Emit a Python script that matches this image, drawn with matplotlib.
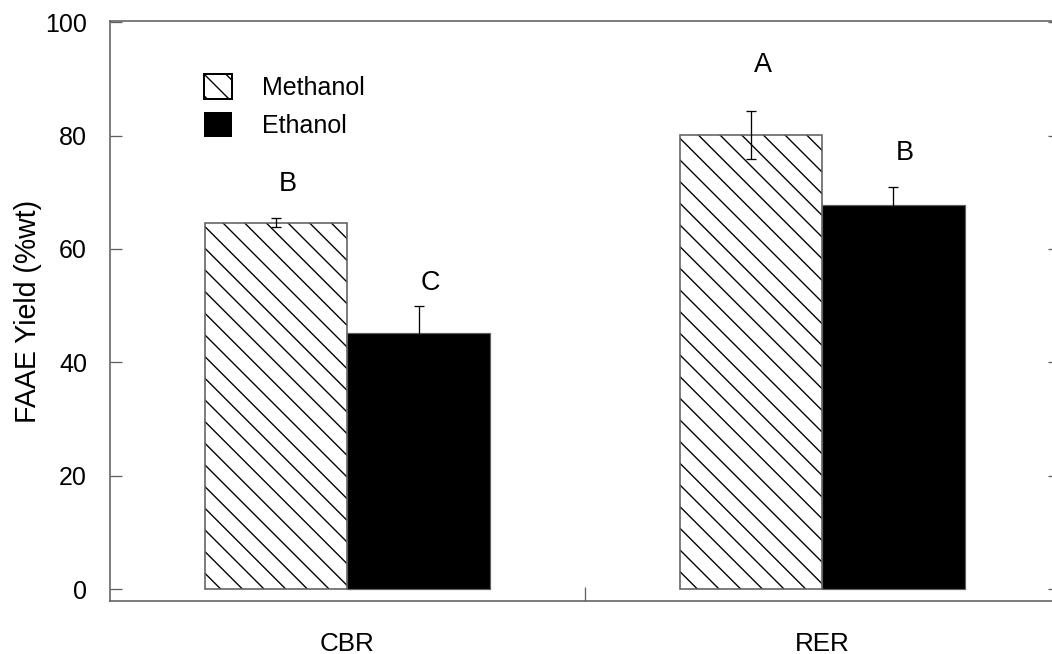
import matplotlib
matplotlib.use("Agg")
import matplotlib.pyplot as plt
from matplotlib.patches import Patch
from matplotlib import font_manager
import numpy as np

# ---- data ----
categories = ["CBR", "RER"]
series_names = ["Methanol", "Ethanol"]
methanol = [64.6, 80.1]
methanol_err = [0.8, 4.2]
ethanol = [45.1, 67.7]
ethanol_err = [4.8, 3.2]
methanol_letters = ["B", "A"]
methanol_letter_y = [71.4, 92.4]
ethanol_letters = ["C", "B"]
ethanol_letter_y = [54.0, 77.0]
yticks = [0, 20, 40, 60, 80, 100]

DPI = 130
installed = {f.name for f in font_manager.fontManager.ttflist}
base = "Liberation Sans" if "Liberation Sans" in installed else "DejaVu Sans"
narrow = "Liberation Sans Narrow" if "Liberation Sans Narrow" in installed else None
plt.rcParams["font.family"] = [base, "DejaVu Sans"]
plt.rcParams["hatch.linewidth"] = 0.75

def px(p):
    return p * 72.0 / DPI

fig = plt.figure(figsize=(1052 / DPI, 654 / DPI), dpi=DPI)
ax = fig.add_axes([110 / 1052, 53 / 654, 949.5 / 1052, 580 / 654])

x = np.arange(len(categories))
w = 0.3
spine_c = "#606060"
HATCH = "\\\\"

# methanol: hatched bars
ax.bar(x - w / 2, methanol, w, color="white", edgecolor="black", hatch=HATCH,
       linewidth=0, zorder=2)
ax.bar(x - w / 2, methanol, w, fill=False, edgecolor=spine_c,
       linewidth=px(1.6), zorder=3)
# ethanol: solid black bars
ax.bar(x + w / 2, ethanol, w, color="black", edgecolor=spine_c,
       linewidth=px(1.2), zorder=2)

ax.errorbar(x - w / 2, methanol, yerr=methanol_err, fmt="none", ecolor="black",
            elinewidth=px(1.3), capsize=px(5), capthick=px(1.3), zorder=4)
ax.errorbar(x + w / 2, ethanol, yerr=ethanol_err, fmt="none", ecolor="black",
            elinewidth=px(1.3), capsize=px(5), capthick=px(1.3), zorder=4)

for xi, lab, ly in zip(x - w / 2, methanol_letters, methanol_letter_y):
    ax.text(xi + 0.025, ly, lab, ha="center", va="center", fontsize=px(27))
for xi, lab, ly in zip(x + w / 2, ethanol_letters, ethanol_letter_y):
    ax.text(xi + 0.025, ly, lab, ha="center", va="center", fontsize=px(27))

ax.set_xlim(-0.5, 1.5)
ax.set_ylim(-2.1, 100.2)

ax.set_yticks(yticks)
ax.set_yticklabels([str(t) for t in yticks])
ax.tick_params(axis="y", which="major", direction="in", length=px(12),
               width=px(1.3), color=spine_c, labelsize=px(25), pad=px(23),
               right=True)

ax.set_xticks([0.5])
ax.set_xticklabels([""])
ax.set_xticks(x, minor=True)
ax.set_xticklabels(categories, minor=True)
ax.tick_params(axis="x", which="major", direction="in", length=px(14),
               width=px(1.3), color=spine_c)
ax.tick_params(axis="x", which="minor", length=0, labelsize=px(26), pad=px(31))

for s in ax.spines.values():
    s.set_color(spine_c)
    s.set_linewidth(px(1.6))

ax.set_ylabel("FAAE Yield (%wt)", fontsize=px(28.5), labelpad=px(3))

if narrow:
    leg_prop = {"family": [narrow, base], "size": px(28)}
else:
    leg_prop = {"family": [base], "size": px(25)}
handles = [Patch(facecolor="white", edgecolor="black", hatch=HATCH, linewidth=px(2)),
           Patch(facecolor="black", edgecolor="black", linewidth=0)]
leg = ax.legend(handles, series_names, loc="upper left",
                bbox_to_anchor=(0.086, 0.93), frameon=False, borderpad=0,
                handlelength=1.1, handleheight=1.15, handletextpad=1.2,
                labelspacing=0.5, prop=leg_prop)

fig.savefig("out.png", dpi=DPI)
